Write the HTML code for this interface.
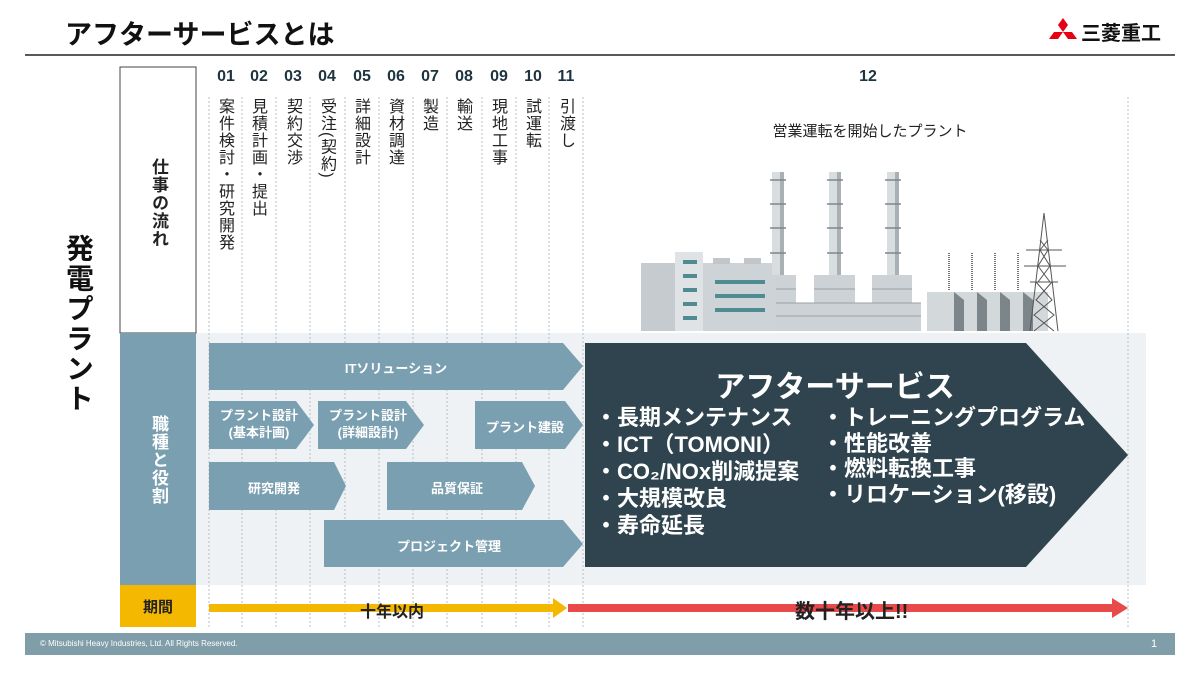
<!DOCTYPE html>
<html><head><meta charset="utf-8"><style>
body{margin:0;width:1200px;height:675px;background:#fff;position:relative;overflow:hidden;font-family:"Liberation Sans","Noto Sans CJK JP",sans-serif}
.a{position:absolute}
.v{position:absolute;writing-mode:vertical-rl;text-orientation:upright;font-size:16px;color:#222;line-height:1;letter-spacing:1px}
.n{position:absolute;top:68px;font-size:16px;font-weight:bold;color:#1e3440;width:34px;text-align:center}
</style></head><body>
<svg class="a" style="left:0;top:0" width="1200" height="675" viewBox="0 0 1200 675">
<line x1="25" y1="55" x2="1175" y2="55" stroke="#222" stroke-width="1.5"/>
<rect x="196" y="333" width="950" height="252" fill="#eef2f4"/>
<rect x="120" y="67" width="76" height="266" fill="#fff" stroke="#444" stroke-width="1"/>
<rect x="120" y="333" width="76" height="252" fill="#7a9fb0"/>
<rect x="120" y="585" width="76" height="42" fill="#f5b800"/>
<g stroke="#b8c0c4" stroke-width="1" stroke-dasharray="2,2">
<line x1="209" y1="97" x2="209" y2="627"/><line x1="242" y1="97" x2="242" y2="627"/><line x1="276" y1="97" x2="276" y2="627"/><line x1="310" y1="97" x2="310" y2="627"/><line x1="345" y1="97" x2="345" y2="627"/><line x1="379" y1="97" x2="379" y2="627"/><line x1="413" y1="97" x2="413" y2="627"/><line x1="447" y1="97" x2="447" y2="627"/><line x1="482" y1="97" x2="482" y2="627"/><line x1="516" y1="97" x2="516" y2="627"/><line x1="549" y1="97" x2="549" y2="627"/><line x1="583" y1="97" x2="583" y2="627"/><line x1="1128" y1="97" x2="1128" y2="627"/>
</g>
<g>
<rect x="641" y="263" width="35" height="68" fill="#c5cbcf"/>
<rect x="675" y="252" width="28" height="79" fill="#dfe3e5"/>
<g fill="#4f8b91"><rect x="683" y="260" width="14" height="4"/><rect x="683" y="274" width="14" height="4"/><rect x="683" y="288" width="14" height="4"/><rect x="683" y="302" width="14" height="4"/><rect x="683" y="316" width="14" height="4"/></g>
<rect x="703" y="263" width="73" height="68" fill="#cdd3d6"/>
<rect x="713" y="258" width="17" height="6" fill="#c0c6c9"/><rect x="744" y="258" width="17" height="6" fill="#c0c6c9"/>
<g fill="#4f8b91"><rect x="715" y="280" width="50" height="4"/><rect x="715" y="294" width="50" height="4"/><rect x="715" y="308" width="50" height="4"/></g>
<rect x="776" y="303" width="145" height="28" fill="#ccd2d5"/>
<rect x="776" y="275" width="20" height="30" fill="#ccd2d5"/><rect x="814" y="275" width="41" height="30" fill="#ccd2d5"/><rect x="872" y="275" width="40" height="30" fill="#ccd2d5"/>
<g stroke="#9aa3a8"><line x1="776" y1="316" x2="921" y2="316"/><line x1="776" y1="289" x2="796" y2="289"/><line x1="814" y1="289" x2="855" y2="289"/><line x1="872" y1="289" x2="912" y2="289"/><line x1="776" y1="303" x2="921" y2="303"/></g>
<rect x="772" y="172" width="12" height="103" fill="#d8dde0"/><rect x="780" y="172" width="4" height="103" fill="#a9b1b5"/>
<rect x="829" y="172" width="12" height="103" fill="#d8dde0"/><rect x="837" y="172" width="4" height="103" fill="#a9b1b5"/>
<rect x="887" y="172" width="12" height="103" fill="#d8dde0"/><rect x="895" y="172" width="4" height="103" fill="#a9b1b5"/>
<g stroke="#7d878c" stroke-width="1.5"><line x1="770" y1="180" x2="786" y2="180"/><line x1="770" y1="204" x2="786" y2="204"/><line x1="770" y1="228" x2="786" y2="228"/><line x1="770" y1="253" x2="786" y2="253"/><line x1="827" y1="180" x2="843" y2="180"/><line x1="827" y1="204" x2="843" y2="204"/><line x1="827" y1="228" x2="843" y2="228"/><line x1="827" y1="253" x2="843" y2="253"/><line x1="885" y1="180" x2="901" y2="180"/><line x1="885" y1="204" x2="901" y2="204"/><line x1="885" y1="228" x2="901" y2="228"/><line x1="885" y1="253" x2="901" y2="253"/></g>
<rect x="927" y="292" width="121" height="39" fill="#d3d8db"/>
<g fill="#7b858a"><polygon points="954,292 964,300 964,331 954,331"/><polygon points="977,292 987,300 987,331 977,331"/><polygon points="1000,292 1010,300 1010,331 1000,331"/><polygon points="1023,292 1033,300 1033,331 1023,331"/></g>
<g stroke="#6b757a" stroke-width="2" stroke-dasharray="1,1"><line x1="949" y1="253" x2="949" y2="290"/><line x1="972" y1="253" x2="972" y2="290"/><line x1="995" y1="253" x2="995" y2="290"/><line x1="1018" y1="253" x2="1018" y2="290"/></g>
<g stroke="#555" stroke-width="1" fill="none"><polyline points="1030,331 1044,213 1058,331"/><line x1="1026" y1="250" x2="1062" y2="250"/><line x1="1024" y1="266" x2="1066" y2="266"/><line x1="1030" y1="282" x2="1058" y2="282"/><polyline points="1036,282 1052,300 1034,315 1054,331"/><polyline points="1052,282 1036,300 1054,315 1034,331"/><polyline points="1040,240 1048,250 1038,266 1050,282"/><polyline points="1048,240 1040,250 1050,266 1038,282"/></g>
</g>
<g fill="#7a9fb0">
<polygon points="209,343 563,343 583,366 563,390 209,390"/>
<polygon points="209,401 296,401 314,425 296,449 209,449"/>
<polygon points="318,401 406,401 424,425 406,449 318,449"/>
<polygon points="475,401 565,401 583,425 565,449 475,449"/>
<polygon points="209,462 334,462 346,486 334,510 209,510"/>
<polygon points="387,462 522,462 535,486 522,510 387,510"/>
<polygon points="324,520 563,520 583,544 563,567 324,567"/>
</g>
<polygon points="585,343 1026,343 1128,455 1026,567 585,567" fill="#2f444e"/>
<rect x="209" y="604" width="346" height="8" fill="#f5b800"/><polygon points="553,598 567,608 553,618" fill="#f5b800"/>
<rect x="568" y="604" width="546" height="8" fill="#e84a4a"/><polygon points="1112,598 1128,608 1112,618" fill="#e84a4a"/>
<rect x="25" y="633" width="1150" height="22" fill="#7f9ea9"/>
<g fill="#e60012"><polygon points="1063,18 1068,25 1063,32 1058,25"/><polygon points="1063,32 1072,32 1077,39 1068,39"/><polygon points="1063,32 1054,32 1049,39 1058,39"/></g>
</svg>
<div class="a" style="left:65px;top:13px;font-size:27px;font-weight:bold;color:#111">アフターサービスとは</div>
<div class="a" style="left:1081px;top:17px;font-size:20px;font-weight:bold;color:#111">三菱重工</div>
<div class="v" style="left:64px;top:234px;font-size:28px;font-weight:bold;color:#111;letter-spacing:2px">発電プラント</div>
<div class="v" style="left:150px;top:158px;font-size:17px;font-weight:bold;color:#222">仕事の流れ</div>
<div class="v" style="left:150px;top:415px;font-size:17px;font-weight:bold;color:#fff">職種と役割</div>
<div class="a" style="left:120px;top:596px;width:76px;text-align:center;font-size:15px;font-weight:bold;color:#222">期間</div>
<div class="n" style="left:209px">01</div><div class="n" style="left:242px">02</div><div class="n" style="left:276px">03</div><div class="n" style="left:310px">04</div><div class="n" style="left:345px">05</div><div class="n" style="left:379px">06</div><div class="n" style="left:413px">07</div><div class="n" style="left:447px">08</div><div class="n" style="left:482px">09</div><div class="n" style="left:516px">10</div><div class="n" style="left:549px">11</div>
<div class="n" style="left:851px">12</div>
<div class="v" style="left:216px;top:98px">案件検討・研究開発</div>
<div class="v" style="left:249px;top:98px">見積計画・提出</div>
<div class="v" style="left:284px;top:98px">契約交渉</div>
<div class="v" style="left:318px;top:98px;text-orientation:mixed">受注(契約)</div>
<div class="v" style="left:352px;top:98px">詳細設計</div>
<div class="v" style="left:386px;top:98px">資材調達</div>
<div class="v" style="left:420px;top:98px">製造</div>
<div class="v" style="left:454px;top:98px">輸送</div>
<div class="v" style="left:489px;top:98px">現地工事</div>
<div class="v" style="left:523px;top:98px">試運転</div>
<div class="v" style="left:557px;top:98px">引渡し</div>
<div class="a" style="left:740px;top:120px;width:260px;text-align:center;font-size:15px;color:#222">営業運転を開始したプラント</div>
<div class="a" style="left:209px;top:358px;width:374px;text-align:center;font-size:13px;font-weight:bold;color:#fff">ITソリューション</div>
<div class="a" style="left:209px;top:407px;width:100px;text-align:center;font-size:13px;font-weight:bold;color:#fff;line-height:17px">プラント設計<br>(基本計画)</div>
<div class="a" style="left:318px;top:407px;width:100px;text-align:center;font-size:13px;font-weight:bold;color:#fff;line-height:17px">プラント設計<br>(詳細設計)</div>
<div class="a" style="left:475px;top:417px;width:100px;text-align:center;font-size:13px;font-weight:bold;color:#fff">プラント建設</div>
<div class="a" style="left:209px;top:478px;width:130px;text-align:center;font-size:13px;font-weight:bold;color:#fff">研究開発</div>
<div class="a" style="left:387px;top:478px;width:140px;text-align:center;font-size:13px;font-weight:bold;color:#fff">品質保証</div>
<div class="a" style="left:324px;top:536px;width:250px;text-align:center;font-size:13px;font-weight:bold;color:#fff">プロジェクト管理</div>
<div class="a" style="left:605px;top:362px;width:460px;text-align:center;font-size:30px;font-weight:bold;color:#fff">アフターサービス</div>
<div class="a" style="left:595px;top:404px;font-size:22px;font-weight:bold;color:#fff;line-height:27px">・長期メンテナンス<br>・ICT（TOMONI）<br>・CO₂/NOx削減提案<br>・大規模改良<br>・寿命延長</div>
<div class="a" style="left:822px;top:405px;font-size:22px;font-weight:bold;color:#fff;line-height:25.5px">・トレーニングプログラム<br>・性能改善<br>・燃料転換工事<br>・リロケーション(移設)</div>
<div class="a" style="left:360px;top:598px;font-size:16px;font-weight:bold;color:#222">十年以内</div>
<div class="a" style="left:795px;top:595px;font-size:20px;font-weight:bold;color:#222">数十年以上!!</div>
<div class="a" style="left:40px;top:639px;font-size:8px;color:#fff">© Mitsubishi Heavy Industries, Ltd.  All Rights Reserved.</div>
<div class="a" style="left:1151px;top:638px;font-size:11px;color:#fff">1</div>
</body></html>
